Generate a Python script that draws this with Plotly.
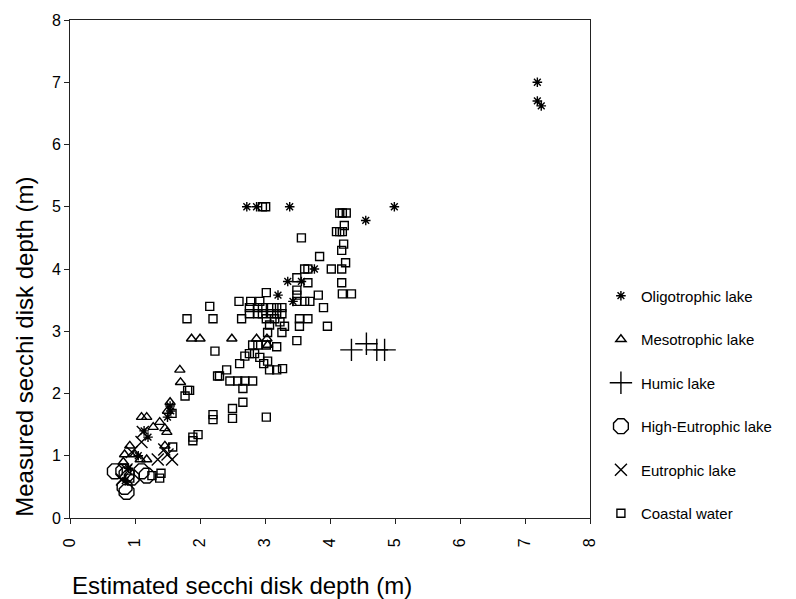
import plotly.graph_objects as go

# ---- data ----
oligo_x = [7.19, 7.19, 7.25, 2.72, 2.87, 3.38, 4.99, 4.55, 3.76, 3.35, 3.56, 3.20, 3.43,
           1.14, 1.20, 1.50, 1.55, 1.54, 0.90, 0.85, 1.05]
oligo_y = [7.00, 6.70, 6.62, 5.00, 5.00, 5.00, 5.00, 4.78, 4.00, 3.80, 3.80, 3.58, 3.48,
           1.40, 1.30, 1.62, 1.72, 1.80, 0.80, 0.60, 1.00]

meso_x = [1.69, 1.70, 1.87, 2.00, 1.54, 1.50, 1.10, 1.18, 1.28, 1.38, 1.46, 1.49,
          2.49, 2.87, 3.03, 3.04, 0.92, 0.84, 0.82, 1.46, 1.08, 1.18, 1.00]
meso_y = [2.38, 2.18, 2.88, 2.88, 1.86, 1.72, 1.62, 1.62, 1.46, 1.54, 1.44, 1.38,
          2.88, 2.88, 2.88, 2.78, 1.16, 1.02, 0.90, 1.16, 0.94, 0.94, 1.02]

humic_x = [4.33, 4.56, 4.72, 4.84]
humic_y = [2.70, 2.80, 2.70, 2.70]

higheu_x = [0.69, 0.82, 0.87, 0.84, 0.87, 1.10, 1.18, 0.95]
higheu_y = [0.75, 0.75, 0.70, 0.50, 0.42, 0.75, 0.68, 0.65]

eutro_x = [1.10, 1.35, 1.57, 1.50, 0.95, 0.87, 1.12, 1.45, 0.80]
eutro_y = [1.22, 0.94, 0.94, 1.02, 1.06, 0.78, 1.38, 1.10, 0.62]

coast_x = [3.01, 2.96, 4.15, 4.19, 4.25, 4.22, 4.10, 4.15, 4.19, 3.56, 4.21, 4.18, 3.84, 4.24,
           3.61, 3.66, 4.02, 4.18, 3.49, 3.66, 4.18, 4.19, 4.33, 3.49, 3.49, 3.82, 3.02,
           2.60, 2.78, 2.92, 3.49, 3.61, 3.69, 3.90,
           2.76, 2.89, 2.96, 3.10, 3.18, 3.26, 2.76, 2.89, 2.96, 3.10, 3.18, 3.26,
           2.64, 3.02, 3.15, 3.23, 3.53, 3.66, 3.30, 3.07, 3.53, 3.96,
           3.04, 3.26, 3.49, 2.81, 2.89, 3.02, 3.18, 2.69, 2.76, 2.84, 2.92,
           3.04, 2.61, 2.98, 3.07, 3.18, 3.27, 2.41, 2.30, 2.46, 2.58, 2.69, 2.81,
           2.66, 2.66, 2.50, 2.20, 2.20, 2.50, 3.02, 1.84,
           2.15, 1.80, 2.20, 2.23, 2.27, 1.81, 1.77, 1.57, 1.97, 1.89, 1.89, 1.38,
           1.26, 1.58, 0.92, 1.40]
coast_y = [5.00, 5.00, 4.90, 4.90, 4.90, 4.70, 4.60, 4.60, 4.60, 4.50, 4.40, 4.30, 4.20, 4.10,
           4.00, 4.00, 4.00, 4.00, 3.86, 3.78, 3.78, 3.60, 3.60, 3.66, 3.58, 3.58, 3.62,
           3.48, 3.48, 3.48, 3.48, 3.48, 3.48, 3.38,
           3.38, 3.38, 3.38, 3.38, 3.38, 3.38, 3.28, 3.28, 3.28, 3.28, 3.28, 3.28,
           3.20, 3.20, 3.20, 3.15, 3.20, 3.20, 3.08, 3.10, 3.08, 3.08,
           2.98, 2.98, 2.85, 2.78, 2.78, 2.78, 2.75, 2.60, 2.64, 2.64, 2.58,
           2.52, 2.48, 2.48, 2.38, 2.38, 2.40, 2.38, 2.28, 2.20, 2.20, 2.20, 2.20,
           2.08, 1.86, 1.76, 1.66, 1.58, 1.60, 1.62, 2.05,
           3.40, 3.20, 3.20, 2.68, 2.28, 2.05, 1.96, 1.68, 1.34, 1.30, 1.24, 0.64,
           0.68, 1.14, 0.64, 0.72]

names = ["Oligotrophic lake", "Mesotrophic lake", "Humic lake",
         "High-Eutrophic lake", "Eutrophic lake", "Coastal water"]

series = [
    (oligo_x, oligo_y, "asterisk-open", 8),
    (meso_x, meso_y, "triangle-up-open", 9),
    (humic_x, humic_y, "cross-thin-open", 16),
    (higheu_x, higheu_y, "octagon-open", 16),
    (eutro_x, eutro_y, "x-thin-open", 12),
    (coast_x, coast_y, "square-open", 8),
]

fig = go.Figure()
for i, (name, (xs, ys, sym, sz)) in enumerate(zip(names, series)):
    fig.add_trace(go.Scatter(
        x=xs, y=ys, mode="markers", name=name, legendgroup=f"g{i}",
        marker=dict(symbol=sym, size=sz, color="black",
                    line=dict(color="black", width=1.4)),
    ))

font_family = "Liberation Sans, Arial, sans-serif"
axis_common = dict(range=[0, 8], dtick=1, tick0=0, showgrid=False, zeroline=False,
                   showline=True, linecolor="#222222", linewidth=1, mirror=True,
                   ticks="outside", ticklen=5, tickcolor="#222222",
                   tickfont=dict(family=font_family, size=16, color="black"))

fig.update_xaxes(**axis_common, tickangle=-90, ticklabelstandoff=8)
fig.update_yaxes(**axis_common)

fig.update_layout(
    width=796, height=599,
    margin=dict(l=70, r=206, t=15, b=81),
    paper_bgcolor="white", plot_bgcolor="white",
    font=dict(family=font_family, color="black"),
    showlegend=True,
    legend=dict(x=1.021, xanchor="left", y=0.479, yanchor="top",
                font=dict(family=font_family, size=15, color="black"),
                tracegroupgap=21, bgcolor="rgba(0,0,0,0)",
                itemsizing="trace"),
    annotations=[
        dict(text="Estimated secchi disk depth (m)", xref="paper", yref="paper",
             x=(70 - 70) / 520, y=-(586 - 518) / 503, xanchor="left", yanchor="middle",
             showarrow=False, font=dict(family=font_family, size=24, color="black")),
        dict(text="Measured secchi disk depth (m)", xref="paper", yref="paper",
             x=-(70 - 25) / 520, y=(518 - 345) / 503, xanchor="center", yanchor="middle",
             textangle=-90, showarrow=False,
             font=dict(family=font_family, size=24, color="black")),
    ],
)

fig.write_html("out.html")
